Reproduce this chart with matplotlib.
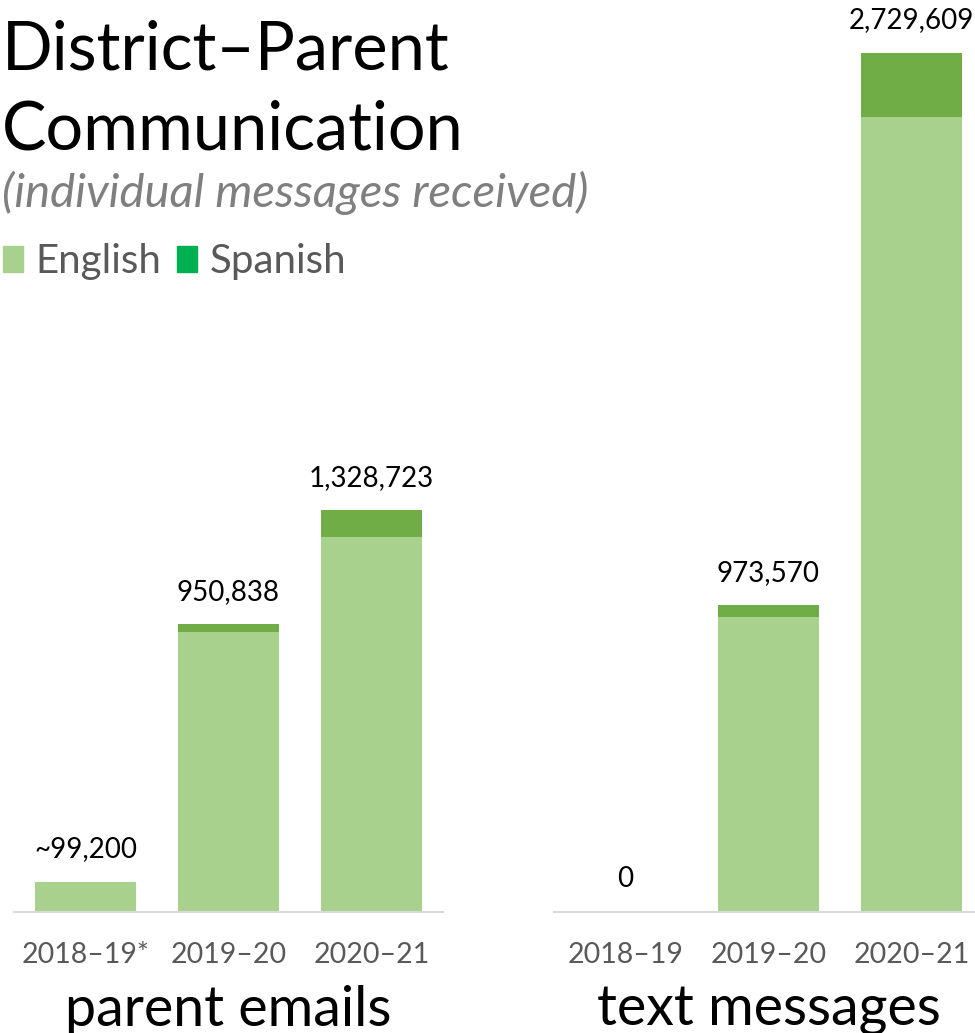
import matplotlib
matplotlib.use("Agg")
import matplotlib.pyplot as plt
from matplotlib.patches import Patch
import numpy as np

plt.rcParams['font.family'] = ['Lato', 'DejaVu Sans']

# data
email_years = ["2018–19*", "2019–20", "2020–21"]
email_totals = np.array([99200, 950838, 1328723])
email_spanish = np.array([0, 25500, 89300])
email_labels = ["~99,200", "950,838", "1,328,723"]

text_years = ["2018–19", "2019–20", "2020–21"]
text_totals = np.array([0, 973570, 2729609])
text_spanish = np.array([0, 38100, 203400])
text_labels = ["0", "973,570", "2,729,609"]

english_col = "#A9D18E"
spanish_col = "#70AD47"
legend_spanish_col = "#00B050"
gray = "#595959"

W, H = 975, 1033
fig = plt.figure(figsize=(W/100, H/100), dpi=100)

def px_axes(x0, y_base, w, h):
    return fig.add_axes([x0/W, (H-y_base)/H, w/W, h/H])

def draw_panel(ax, years, totals, spanish, labels, ymax, name):
    x = np.arange(len(years))
    english = totals - spanish
    ax.bar(x, english, width=0.706, color=english_col, edgecolor="none")
    ax.bar(x, spanish, width=0.706, bottom=english, color=spanish_col, edgecolor="none")
    for xi, t, lab in zip(x, totals, labels):
        ax.annotate(lab, (xi, t), xytext=(0, 14), textcoords="offset points",
                    ha="center", va="bottom", fontsize=20, color="black")
    ax.set_xlim(-0.5, 2.5)
    ax.set_ylim(0, ymax)
    for s in ["top", "left", "right"]:
        ax.spines[s].set_visible(False)
    ax.spines["bottom"].set_color("#D9D9D9")
    ax.spines["bottom"].set_linewidth(1.5)
    ax.set_yticks([])
    ax.set_xticks(x)
    ax.set_xticklabels(years, fontsize=20.5, color=gray)
    ax.tick_params(axis="x", length=0, pad=22)
    ax.set_xlabel(name, fontsize=40, color="black", labelpad=12)
    ax.patch.set_alpha(0)

base = 911.7
ax1 = px_axes(14, base, 429, base)
draw_panel(ax1, email_years, email_totals, email_spanish, email_labels,
           base / 3.023e-4, "parent emails")
ax2 = px_axes(554, base, 429, base)
draw_panel(ax2, text_years, text_totals, text_spanish, text_labels,
           base / 3.146e-4, "text messages")

fig.text(2/W, 1 - 70/H, "District–Parent", fontsize=48, color="black", va="baseline")
fig.text(2/W, 1 - 150/H, "Communication", fontsize=48, color="black", va="baseline")
fig.text(2/W, 1 - 207/H, "(individual messages received)", fontsize=34,
         style="italic", color="#7F7F7F", va="baseline")

handles = [Patch(color=english_col, label="English"),
           Patch(color=legend_spanish_col, label="Spanish")]
fig.legend(handles=handles, loc="upper left", bbox_to_anchor=(3/W, 1 - 243/H),
           ncol=2, frameon=False, fontsize=29, labelcolor=gray,
           borderpad=0, borderaxespad=0,
           handlelength=0.5, handleheight=0.6, handletextpad=0.3, columnspacing=0.4)

fig.savefig("out.png", dpi=100)
